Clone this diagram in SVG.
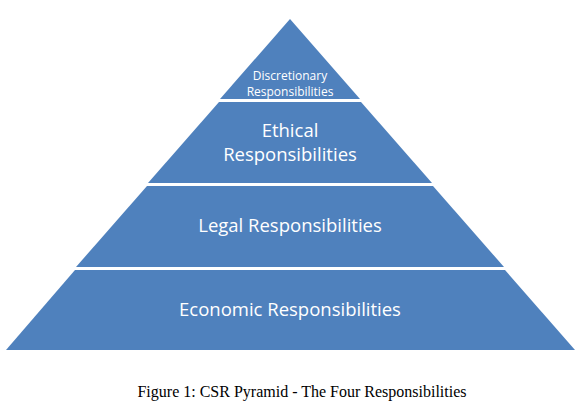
<svg xmlns="http://www.w3.org/2000/svg" width="582" height="413" viewBox="0 0 582 413">
<style>
.band{fill:#4F81BD;stroke:none}
.t{fill:#fff;font-family:"Open Sans","Liberation Sans",sans-serif;text-anchor:middle}
.cap{fill:#000;font-family:"Liberation Serif",serif;font-size:16px;text-anchor:middle}
</style>
<rect width="582" height="413" fill="#fff"/>
<g id="discretionary">
<polygon class="band" points="290,19 220,99 360,99"/>
<text class="t" font-size="12" x="290" y="80">Discretionary</text>
<text class="t" font-size="12" x="290" y="95.5">Responsibilities</text>
</g>
<g id="ethical">
<polygon class="band" points="219,102 361,102 432,183 148,183"/>
<text class="t" font-size="18.5" x="290" y="137">Ethical</text>
<text class="t" font-size="18.5" x="290" y="161">Responsibilities</text>
</g>
<g id="legal">
<polygon class="band" points="147,186 433,186 504,267 76,267"/>
<text class="t" font-size="18.5" x="290" y="232">Legal Responsibilities</text>
</g>
<g id="economic">
<polygon class="band" points="75,270 505,270 575,350 6,350"/>
<text class="t" font-size="18.5" x="290" y="316">Economic Responsibilities</text>
</g>
<g id="connectors"></g>
<text class="cap" x="302" y="397">Figure 1: CSR Pyramid - The Four Responsibilities</text>
</svg>
